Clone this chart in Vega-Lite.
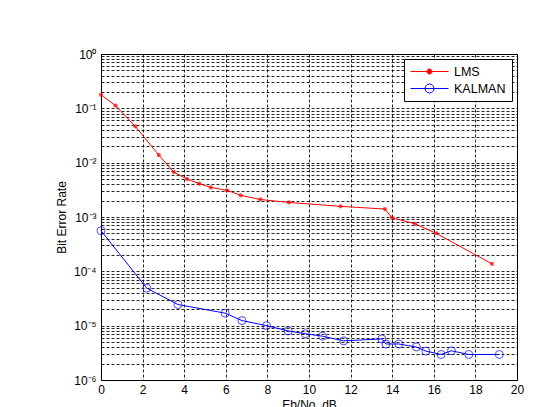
{
  "$schema": "https://vega.github.io/schema/vega-lite/v6.json",
  "width": 416,
  "height": 326,
  "autosize": "none",
  "padding": {"left": 101, "top": 54, "right": 36, "bottom": 27},
  "background": "white",
  "config": {
    "font": "Liberation Sans",
    "view": {"stroke": "black", "strokeWidth": 1},
    "axis": {
      "domain": false,
      "ticks": false,
      "grid": true,
      "gridColor": "black",
      "gridDash": [3, 2],
      "gridWidth": 1,
      "gridOpacity": 0.85,
      "labelColor": "black",
      "titleColor": "black",
      "labelFont": "Liberation Sans",
      "titleFont": "Liberation Sans",
      "titleFontWeight": "normal",
      "labelFontSize": 12,
      "titleFontSize": 12
    }
  },
  "data": {
    "values": [
      {"snr": 0, "ber": 0.177, "series": "LMS"},
      {"snr": 0.7, "ber": 0.112, "series": "LMS"},
      {"snr": 1.65, "ber": 0.0465, "series": "LMS"},
      {"snr": 2.78, "ber": 0.0138, "series": "LMS"},
      {"snr": 3.5, "ber": 0.0067, "series": "LMS"},
      {"snr": 4.14, "ber": 0.0050, "series": "LMS"},
      {"snr": 4.73, "ber": 0.0041, "series": "LMS"},
      {"snr": 5.28, "ber": 0.0035, "series": "LMS"},
      {"snr": 6.06, "ber": 0.0031, "series": "LMS"},
      {"snr": 6.72, "ber": 0.0025, "series": "LMS"},
      {"snr": 7.66, "ber": 0.0021, "series": "LMS"},
      {"snr": 9.04, "ber": 0.00185, "series": "LMS"},
      {"snr": 11.52, "ber": 0.00157, "series": "LMS"},
      {"snr": 13.65, "ber": 0.0014, "series": "LMS"},
      {"snr": 13.99, "ber": 0.00097, "series": "LMS"},
      {"snr": 15.1, "ber": 0.00075, "series": "LMS"},
      {"snr": 16.12, "ber": 0.0005, "series": "LMS"},
      {"snr": 18.8, "ber": 0.000137, "series": "LMS"},
      {"snr": 0, "ber": 0.00056, "series": "KALMAN"},
      {"snr": 2.2, "ber": 0.000049, "series": "KALMAN"},
      {"snr": 3.7, "ber": 0.0000245, "series": "KALMAN"},
      {"snr": 5.97, "ber": 0.000017, "series": "KALMAN"},
      {"snr": 6.78, "ber": 0.0000124, "series": "KALMAN"},
      {"snr": 7.96, "ber": 0.00001, "series": "KALMAN"},
      {"snr": 9.0, "ber": 0.000008, "series": "KALMAN"},
      {"snr": 9.82, "ber": 0.0000071, "series": "KALMAN"},
      {"snr": 10.65, "ber": 0.0000064, "series": "KALMAN"},
      {"snr": 11.67, "ber": 0.00000525, "series": "KALMAN"},
      {"snr": 13.5, "ber": 0.0000057, "series": "KALMAN"},
      {"snr": 13.7, "ber": 0.0000046, "series": "KALMAN"},
      {"snr": 14.32, "ber": 0.0000046, "series": "KALMAN"},
      {"snr": 15.16, "ber": 0.00000405, "series": "KALMAN"},
      {"snr": 15.62, "ber": 0.0000034, "series": "KALMAN"},
      {"snr": 16.35, "ber": 0.00000295, "series": "KALMAN"},
      {"snr": 16.85, "ber": 0.00000345, "series": "KALMAN"},
      {"snr": 17.68, "ber": 0.00000295, "series": "KALMAN"},
      {"snr": 19.15, "ber": 0.00000295, "series": "KALMAN"}
    ]
  },
  "encoding": {
    "x": {
      "field": "snr",
      "type": "quantitative",
      "scale": {"domain": [0, 20], "nice": false},
      "axis": {
        "title": "Eb/No, dB",
        "values": [0, 2, 4, 6, 8, 10, 12, 14, 16, 18, 20],
        "labelPadding": 4,
        "titlePadding": 4,
        "labelFlush": false
      }
    },
    "y": {
      "field": "ber",
      "type": "quantitative",
      "scale": {"type": "log", "domain": [0.000001, 1], "nice": false},
      "axis": {
        "title": "Bit Error Rate",
        "values": [0.000001, 0.000002, 0.000003, 0.000004, 0.000005, 0.000006, 0.000007, 0.000008, 0.000009,
                   0.00001, 0.00002, 0.00003, 0.00004, 0.00005, 0.00006, 0.00007, 0.00008, 0.00009,
                   0.0001, 0.0002, 0.0003, 0.0004, 0.0005, 0.0006, 0.0007, 0.0008, 0.0009,
                   0.001, 0.002, 0.003, 0.004, 0.005, 0.006, 0.007, 0.008, 0.009,
                   0.01, 0.02, 0.03, 0.04, 0.05, 0.06, 0.07, 0.08, 0.09,
                   0.1, 0.2, 0.3, 0.4, 0.5, 0.6, 0.7, 0.8, 0.9, 1],
        "labelExpr": "abs(log(datum.value)/LN10 - round(log(datum.value)/LN10)) < 0.000001 ? ['10⁰','10⁻¹','10⁻²','10⁻³','10⁻⁴','10⁻⁵','10⁻⁶'][-round(log(datum.value)/LN10)] : ''",
        "labelOverlap": false,
        "labelFlush": false,
        "labelPadding": 5,
        "titlePadding": 5
      }
    }
  },
  "layer": [
    {
      "mark": {"type": "line", "strokeWidth": 1},
      "encoding": {
        "color": {
          "field": "series",
          "type": "nominal",
          "scale": {"domain": ["LMS", "KALMAN"], "range": ["#ff0000", "#0000ff"]},
          "legend": {
            "title": null,
            "orient": "top-right",
            "offset": 5,
            "strokeColor": "black",
            "fillColor": "white",
            "padding": 6,
            "rowPadding": 4,
            "labelFontSize": 12.5,
            "labelFont": "Liberation Sans",
            "labelColor": "black",
            "symbolSize": 144,
            "symbolStrokeWidth": 1,
            "symbolOffset": 13,
            "labelOffset": 18,
            "encode": {
              "symbols": {
                "update": {
                  "shape": {"signal": "datum.value === 'LMS' ? 'M-3.17,0H3.17M-0.42,0A0.42,0.42 0 1,0 0.42,0A0.42,0.42 0 1,0 -0.42,0Z' : 'M-3.17,0H3.17M-0.75,0A0.75,0.75 0 1,0 0.75,0A0.75,0.75 0 1,0 -0.75,0Z'"},
                  "fill": {"signal": "datum.value === 'LMS' ? '#ff0000' : 'transparent'"}
                }
              }
            }
          }
        }
      }
    },
    {
      "transform": [{"filter": "datum.series === 'LMS'"}],
      "mark": {"type": "point", "shape": "circle", "filled": true, "size": 18, "color": "#ff0000"}
    },
    {
      "transform": [{"filter": "datum.series === 'KALMAN'"}],
      "mark": {"type": "point", "shape": "circle", "filled": false, "size": 64, "color": "#0000ff", "strokeWidth": 1}
    }
  ]
}
